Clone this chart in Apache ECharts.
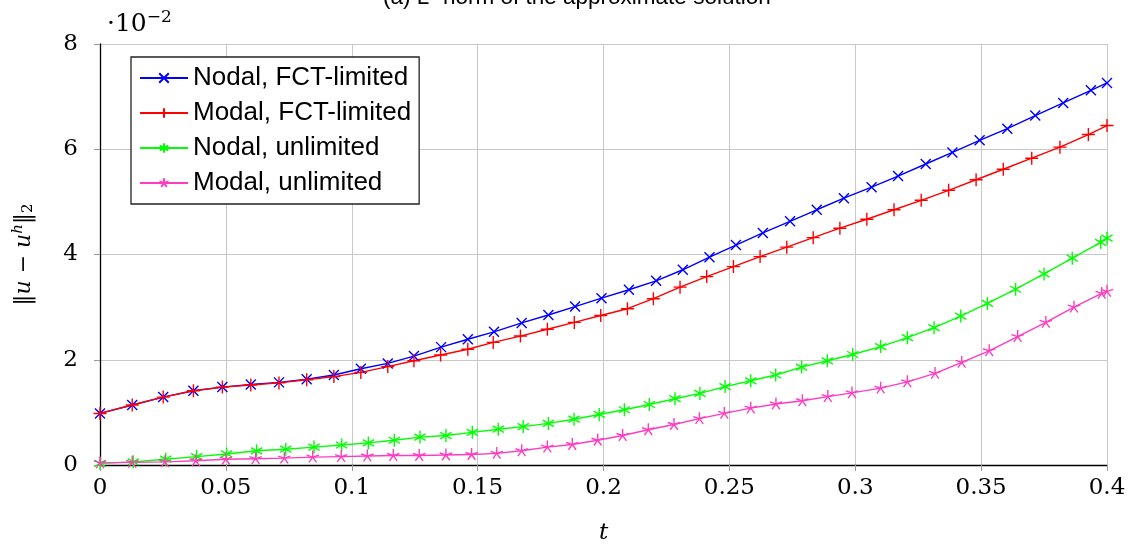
<!DOCTYPE html>
<html>
<head>
<meta charset="utf-8">
<script src="https://cdn.jsdelivr.net/npm/echarts@6/dist/echarts.min.js"></script>
<style>
  html, body { margin: 0; padding: 0; background: #fff; }
  #chart { width: 1136px; height: 544px; }
</style>
</head>
<body>
<div id="chart"></div>
<script>
// ---- Data (values in units of 1e-2) ----
const seriesNames = ['Nodal, FCT-limited', 'Modal, FCT-limited', 'Nodal, unlimited', 'Modal, unlimited'];

const tNodalFct = [0, 0.0128, 0.0251, 0.0371, 0.0486, 0.0599, 0.0711, 0.0821, 0.0929, 0.1036, 0.1143, 0.1247, 0.1355, 0.1461, 0.1565, 0.1675, 0.1781, 0.1887, 0.1992, 0.2101, 0.2209, 0.2315, 0.2421, 0.2526, 0.2633, 0.2741, 0.2847, 0.2955, 0.3065, 0.3170, 0.3280, 0.3386, 0.3494, 0.3604, 0.3715, 0.3826, 0.3936, 0.4];
const nodalFct  = [0.98, 1.14, 1.29, 1.41, 1.48, 1.53, 1.57, 1.63, 1.71, 1.83, 1.93, 2.07, 2.24, 2.39, 2.53, 2.70, 2.85, 3.01, 3.17, 3.33, 3.50, 3.71, 3.95, 4.18, 4.41, 4.63, 4.85, 5.07, 5.28, 5.49, 5.72, 5.94, 6.17, 6.39, 6.64, 6.88, 7.12, 7.26];

const tModalFct = [0, 0.0128, 0.0251, 0.0371, 0.0486, 0.0599, 0.0711, 0.0821, 0.0929, 0.1036, 0.1143, 0.1247, 0.1353, 0.1461, 0.1562, 0.1670, 0.1777, 0.1884, 0.1989, 0.2095, 0.2198, 0.2304, 0.2410, 0.2516, 0.2622, 0.2728, 0.2833, 0.2939, 0.3046, 0.3154, 0.3262, 0.3371, 0.3480, 0.3588, 0.3701, 0.3813, 0.3926, 0.4];
const modalFct  = [0.98, 1.14, 1.29, 1.41, 1.48, 1.52, 1.56, 1.62, 1.68, 1.76, 1.87, 1.98, 2.09, 2.20, 2.33, 2.45, 2.58, 2.71, 2.84, 2.97, 3.16, 3.38, 3.58, 3.77, 3.96, 4.14, 4.32, 4.50, 4.67, 4.85, 5.03, 5.22, 5.42, 5.62, 5.83, 6.04, 6.28, 6.45];

const tNodalUnl = [0, 0.0132, 0.0261, 0.0384, 0.0503, 0.0622, 0.0738, 0.0850, 0.0960, 0.1066, 0.1169, 0.1271, 0.1374, 0.1479, 0.1582, 0.1681, 0.1781, 0.1883, 0.1983, 0.2083, 0.2182, 0.2284, 0.2383, 0.2483, 0.2585, 0.2684, 0.2787, 0.2889, 0.2990, 0.3101, 0.3207, 0.3313, 0.3419, 0.3525, 0.3637, 0.3750, 0.3862, 0.3975, 0.4];
const nodalUnl  = [0.03, 0.06, 0.11, 0.16, 0.21, 0.27, 0.30, 0.34, 0.38, 0.42, 0.47, 0.53, 0.56, 0.62, 0.68, 0.73, 0.79, 0.87, 0.96, 1.05, 1.15, 1.26, 1.36, 1.49, 1.60, 1.71, 1.86, 1.98, 2.10, 2.25, 2.42, 2.61, 2.83, 3.07, 3.34, 3.63, 3.93, 4.23, 4.31];

const tModalUnl = [0, 0.0128, 0.0258, 0.0381, 0.0500, 0.0618, 0.0732, 0.0845, 0.0958, 0.1062, 0.1165, 0.1268, 0.1374, 0.1476, 0.1576, 0.1675, 0.1777, 0.1876, 0.1977, 0.2076, 0.2178, 0.2280, 0.2381, 0.2480, 0.2585, 0.2685, 0.2790, 0.2891, 0.2987, 0.3101, 0.3207, 0.3317, 0.3423, 0.3532, 0.3645, 0.3757, 0.3869, 0.3979, 0.4];
const modalUnl  = [0.04, 0.05, 0.06, 0.08, 0.11, 0.12, 0.13, 0.15, 0.16, 0.17, 0.18, 0.18, 0.19, 0.20, 0.22, 0.27, 0.34, 0.39, 0.47, 0.56, 0.67, 0.77, 0.88, 0.98, 1.08, 1.16, 1.22, 1.30, 1.37, 1.46, 1.58, 1.74, 1.95, 2.17, 2.44, 2.71, 3.00, 3.26, 3.30];

const xTicks = [0, 0.05, 0.1, 0.15, 0.2, 0.25, 0.3, 0.35, 0.4];
const yTicks = [0, 2, 4, 6, 8];

// ---- Marker shapes ----
const SYM_X = 'path://M0,0L100,100M100,0L0,100';
const SYM_PLUS = 'path://M50,0L50,100M0,50L100,50';
const SYM_AST = 'path://M50,0L50,100M6.7,25L93.3,75M93.3,25L6.7,75M0,50L0,50M100,50L100,50';
const SYM_STAR = 'path://M50,50L50,0M50,50L97.6,34.5M50,50L2.4,34.5M50,50L79.4,90.5M50,50L20.6,90.5M50,100L50,100M0,50L0,50M100,50L100,50';

function zip(t, v) { return t.map((x, i) => [x, v[i]]); }

const seriesDefs = [
  { name: seriesNames[0], t: tNodalFct, v: nodalFct, color: '#0000ff', symbol: SYM_X, size: 10 },
  { name: seriesNames[1], t: tModalFct, v: modalFct, color: '#ff0000', symbol: SYM_PLUS, size: 13 },
  { name: seriesNames[2], t: tNodalUnl, v: nodalUnl, color: '#00ff00', symbol: SYM_AST, size: 13 },
  { name: seriesNames[3], t: tModalUnl, v: modalUnl, color: '#ff3cc0', symbol: SYM_STAR, size: 13 }
];

const chart = echarts.init(document.getElementById('chart'), null, { renderer: 'canvas' });

const serif = 'DejaVu Serif';

chart.setOption({
  animation: false,
  backgroundColor: '#ffffff',
  grid: { left: 100, right: 29, top: 44, bottom: 79, containLabel: false, outerBoundsMode: 'none' },
  xAxis: {
    type: 'value',
    min: 0, max: 0.4, interval: 0.05,
    name: 't',
    nameLocation: 'middle',
    nameGap: 57,
    nameTextStyle: { fontFamily: serif, fontStyle: 'italic', fontSize: 23, color: '#000' },
    axisLine: { show: true, onZero: false, lineStyle: { color: '#000', width: 1.3 } },
    axisTick: { show: true, inside: false, length: 6, lineStyle: { color: '#9a9a9a', width: 1 } },
    axisLabel: {
      fontFamily: serif, fontSize: 23, color: '#000', margin: 12,
      formatter: v => String(xTicks.find(t => Math.abs(t - v) < 1e-9) ?? v)
    },
    splitLine: { show: true, lineStyle: { color: '#c8c8c8', width: 1 } }
  },
  yAxis: {
    type: 'value',
    min: 0, max: 8, interval: 2,
    name: '{n|‖}{i|u}{n| − }{i|u}{s|h}{n|‖}{b|2}',
    nameLocation: 'middle',
    nameRotate: 90,
    nameGap: 62,
    nameTextStyle: {
      color: '#000',
      rich: {
        n: { fontFamily: serif, fontSize: 22, color: '#000' },
        i: { fontFamily: serif, fontStyle: 'italic', fontSize: 22, color: '#000' },
        s: { fontFamily: serif, fontStyle: 'italic', fontSize: 15, color: '#000', padding: [0, 0, 12, 0] },
        b: { fontFamily: serif, fontSize: 15, color: '#000', padding: [8, 0, 0, 0] }
      }
    },
    axisLine: { show: true, onZero: false, lineStyle: { color: '#000', width: 1.3 } },
    axisTick: { show: true, inside: false, length: 6, lineStyle: { color: '#9a9a9a', width: 1 } },
    axisLabel: {
      fontFamily: serif, fontSize: 23, color: '#000', margin: 22,
      formatter: v => String(yTicks.find(t => Math.abs(t - v) < 1e-9) ?? v)
    },
    splitLine: { show: true, lineStyle: { color: '#c8c8c8', width: 1 } }
  },
  legend: {
    orient: 'vertical',
    left: 131, top: 57,
    padding: [8, 8, 8, 8],
    itemGap: 9,
    itemWidth: 48,
    itemHeight: 12,
    backgroundColor: '#ffffff',
    borderColor: '#222',
    borderWidth: 1.3,
    borderRadius: 0,
    textStyle: { fontFamily: 'Liberation Sans', fontSize: 26, color: '#000' },
    data: seriesNames
  },
  graphic: [
    {
      type: 'text', left: 383, top: -14, silent: true,
      style: { text: '(a) L² norm of the approximate solution', font: '22.5px "Liberation Sans"', fill: '#000' }
    },
    {
      type: 'text', left: 107, top: 9, silent: true,
      style: {
        text: '{a|·10}{s|−2}',
        rich: {
          a: { fontFamily: serif, fontSize: 25, fill: '#000' },
          s: { fontFamily: serif, fontSize: 17, fill: '#000', padding: [0, 0, 14, 0] }
        }
      }
    }
  ],
  series: seriesDefs.map(d => ({
    name: d.name,
    type: 'line',
    data: zip(d.t, d.v),
    symbol: d.symbol,
    symbolSize: d.size,
    symbolKeepAspect: true,
    showSymbol: true,
    showAllSymbol: true,
    lineStyle: { color: d.color, width: 1.4 },
    itemStyle: { color: 'none', borderColor: d.color, borderWidth: 1.4 },
    emphasis: { disabled: true },
    z: 3
  }))
});
</script>
</body>
</html>
